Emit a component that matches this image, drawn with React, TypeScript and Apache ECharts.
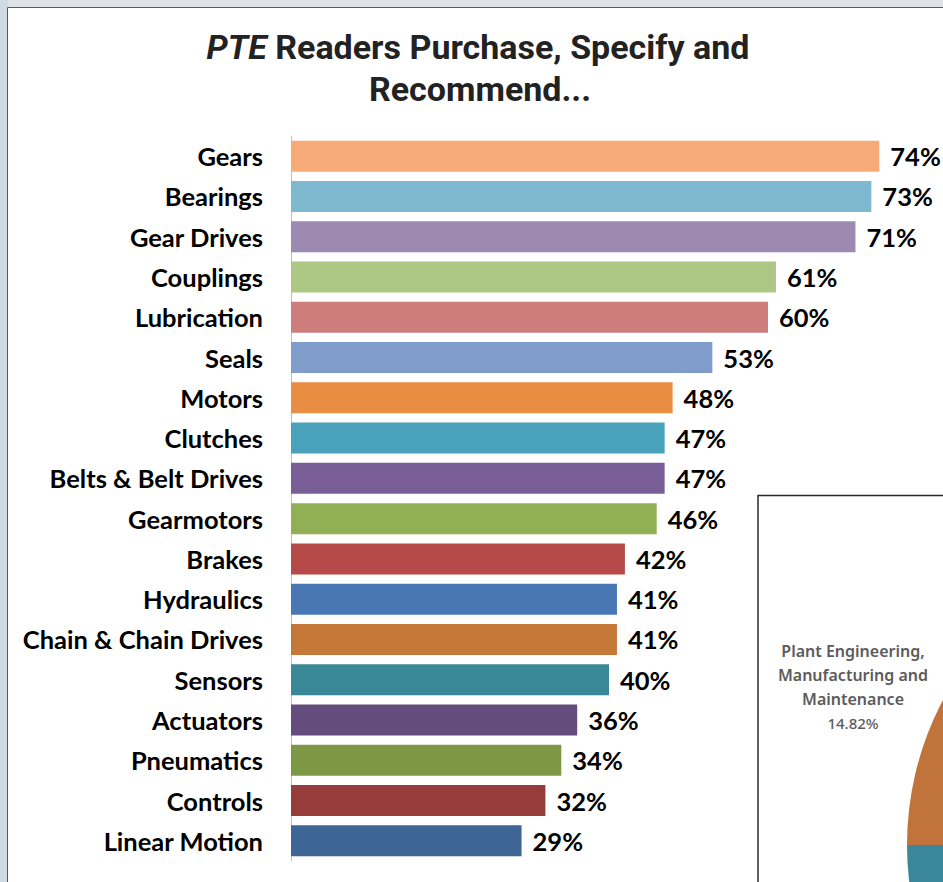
import React, { useEffect, useRef } from "react";
import * as echarts from "echarts";

const categories = [
  "Gears", "Bearings", "Gear Drives", "Couplings", "Lubrication", "Seals",
  "Motors", "Clutches", "Belts & Belt Drives", "Gearmotors", "Brakes",
  "Hydraulics", "Chain & Chain Drives", "Sensors", "Actuators", "Pneumatics",
  "Controls", "Linear Motion",
];
const values = [74, 73, 71, 61, 60, 53, 48, 47, 47, 46, 42, 41, 41, 40, 36, 34, 32, 29];
const barColors = [
  "#f8aa78", "#7fb9cf", "#9c8ab3", "#adc785", "#cd7e7c", "#7f9ccb",
  "#e88d42", "#48a2bb", "#7a5e98", "#91b056", "#b54a48", "#4877b4",
  "#c57838", "#398797", "#644c7d", "#7c9844", "#963d3c", "#3d6697",
];
const pieNames = ["Plant Engineering, Manufacturing and Maintenance", "Other"];
const pieLabelLines = ["Plant Engineering,", "Manufacturing and", "Maintenance"];
const pieValues = [14.82, 85.18];
const pieColors = ["#c0733a", "#3a879a"];

export default function App() {
  const ref = useRef<HTMLDivElement>(null);
  useEffect(() => {
    if (!ref.current) return;
    const chart = echarts.init(ref.current, undefined, { renderer: "svg" });
    const labelFont = {
      fontFamily: "Lato",
      fontWeight: "bold" as const,
      fontSize: 25.5,
      color: "#000",
    };
    chart.setOption({
      animation: false,
      backgroundColor: "#dfe3e8",
      grid: { left: 291, top: 136, width: 636, height: 725 },
      xAxis: { type: "value", min: 0, max: 80, show: false },
      yAxis: {
        type: "category",
        data: categories,
        inverse: true,
        axisLine: { show: true, lineStyle: { color: "#bfbfbf", width: 1 } },
        axisTick: { show: false },
        axisLabel: { ...labelFont, margin: 28 },
        splitLine: { show: false },
      },
      series: [
        {
          type: "bar",
          barCategoryGap: "23%",
          data: values.map((v, i) => ({ value: v, itemStyle: { color: barColors[i] } })),
          label: { show: true, position: "right", distance: 11, formatter: "{c}%", ...labelFont },
          silent: true,
          z: 2,
        },
        {
          type: "pie",
          center: [1217, 845],
          radius: 310,
          startAngle: 180,
          clockwise: true,
          label: { show: false },
          labelLine: { show: false },
          silent: true,
          z: 6,
          data: pieValues.map((v, i) => ({ name: pieNames[i], value: v, itemStyle: { color: pieColors[i] } })),
        },
      ],
      graphic: [
        { type: "rect", z: -20, shape: { x: 0, y: 0, width: 8, height: 882 }, style: { fill: "#cfdae4" } },
        {
          type: "rect", z: -10,
          shape: { x: 7.5, y: 7.5, width: 950, height: 900 },
          style: { fill: "#ffffff", stroke: "#5a5a5a", lineWidth: 1 },
        },
        {
          type: "text", z: 10, x: 478, y: 47,
          style: {
            text: "{i|PTE} Readers Purchase, Specify and",
            textAlign: "center", textVerticalAlign: "middle",
            fontFamily: "Roboto", fontWeight: "bold", fontSize: 34, fill: "#222",
            rich: { i: { fontFamily: "Roboto", fontStyle: "italic", fontWeight: "bold", fontSize: 34, fill: "#222" } },
          },
        },
        {
          type: "text", z: 10, x: 480, y: 89,
          style: {
            text: "Recommend...",
            textAlign: "center", textVerticalAlign: "middle",
            fontFamily: "Roboto", fontWeight: "bold", fontSize: 34, fill: "#222",
          },
        },
        {
          type: "rect", z: 3,
          shape: { x: 758, y: 495.5, width: 200, height: 400 },
          style: { fill: "#ffffff", stroke: "#2a2a2a", lineWidth: 1.5 },
        },
        {
          type: "text", z: 10, x: 853, y: 639,
          style: {
            text: pieLabelLines.join("\n"),
            textAlign: "center",
            fontFamily: "Noto Sans", fontWeight: 600, fontSize: 16, lineHeight: 24, fill: "#5b5b5b",
          },
        },
        {
          type: "text", z: 10, x: 853, y: 711,
          style: {
            text: pieValues[0].toFixed(2) + "%",
            textAlign: "center",
            fontFamily: "Noto Sans", fontWeight: 500, fontSize: 15, lineHeight: 24, fill: "#5b5b5b",
          },
        },
      ],
    });
    return () => chart.dispose();
  }, []);
  return (
    <div
      ref={ref}
      style={{ position: "fixed", left: 0, top: 0, width: 943, height: 882 }}
    />
  );
}
